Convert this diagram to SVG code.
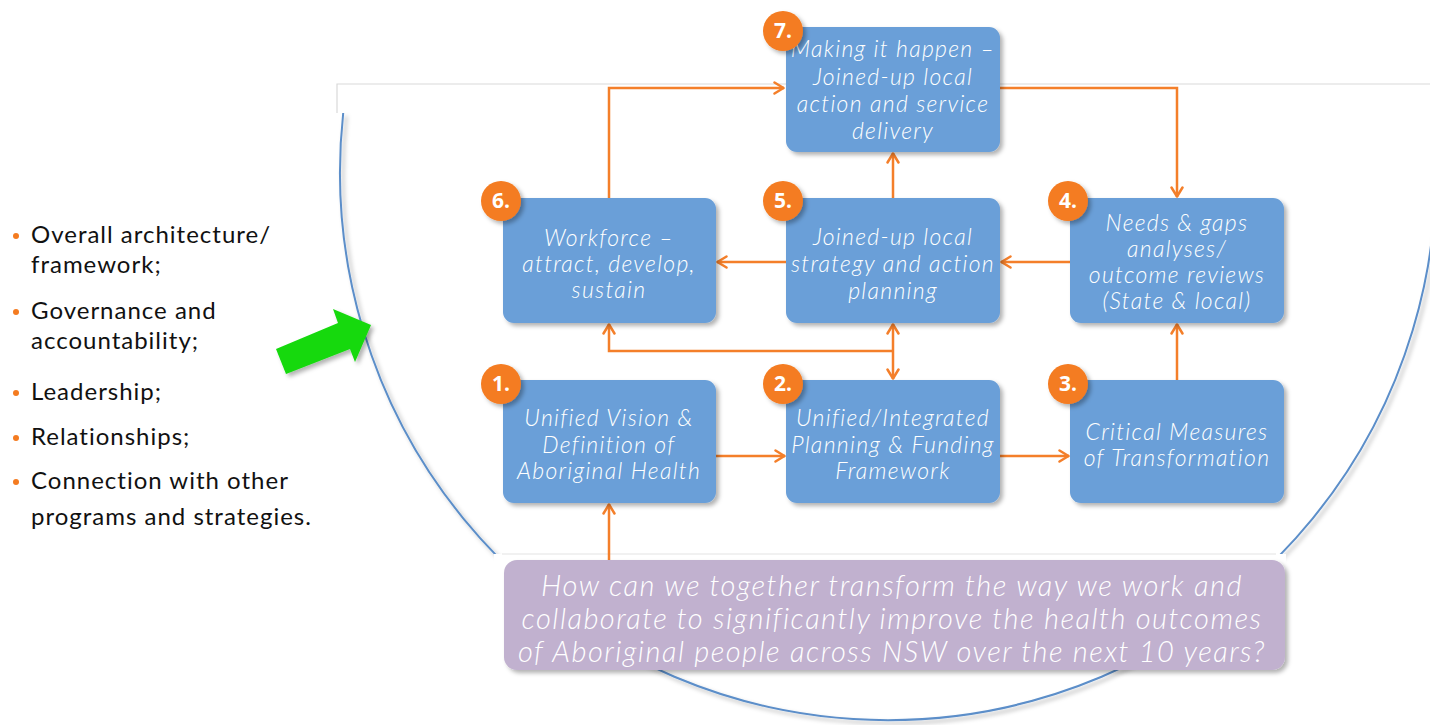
<svg xmlns="http://www.w3.org/2000/svg" width="1430" height="725" viewBox="0 0 1430 725">
  <style>
    .box { fill: #6a9fd8; }
    .ask { fill: #c1b1cf; }
    .hand { font-family: Lato, "Open Sans", "DejaVu Sans", sans-serif; font-style: italic; font-weight: 300; fill: #ffffff; text-anchor: middle; }
    .node-t { font-size: 23px; letter-spacing: 1.3px; }
    .ask-t { font-size: 29px; letter-spacing: 1.5px; }
    .badge { fill: #f47b20; }
    .badge-t { font-family: "Open Sans", "Liberation Sans", sans-serif; font-weight: 700; font-size: 21px; fill: #ffffff; text-anchor: middle; }
    .conn { fill: none; stroke: #f47f2a; stroke-width: 2.5; }
    .bullet-t { font-family: Lato, "Liberation Sans", sans-serif; font-size: 24px; letter-spacing: 1px; fill: #111111; }
    .dot { fill: #f47b20; }
  </style>
  <defs>
    <filter id="shadow" x="-10%" y="-10%" width="130%" height="130%">
      <feDropShadow dx="3" dy="3" stdDeviation="2" flood-color="#000000" flood-opacity="0.3"/>
    </filter>
    <marker id="arrow" viewBox="0 0 12 14" refX="11" refY="7" markerWidth="12" markerHeight="14" markerUnits="userSpaceOnUse" orient="auto-start-reverse">
      <path d="M1.5,1.5 L10.5,7 L1.5,12.5" fill="none" stroke="#f47f2a" stroke-width="2.5" stroke-linecap="round" stroke-linejoin="round"/>
    </marker>
  </defs>

  <rect x="0" y="0" width="1430" height="725" fill="#ffffff"/>

  <!-- framing: top band edge and the large enclosing arc -->
  <g id="frame">
    <path d="M337,113 V84 H1430" fill="none" stroke="#d9d9d9" stroke-width="1.2"/>
    <path d="M343.2,113 A548,548 0 1 0 1432.8,113" fill="none" stroke="#5b8ec9" stroke-width="2" filter="url(#shadow)"/>
    <rect x="494" y="554" width="792" height="110" fill="#ffffff"/>
    <line x1="502" y1="554" x2="1276" y2="554" stroke="#e3e3e3" stroke-width="1"/>
  </g>

  <!-- bullet list -->
  <g id="bullets">
    <circle class="dot" cx="16" cy="236" r="3"/>
    <text class="bullet-t" x="31" y="243">Overall architecture/</text>
    <text class="bullet-t" x="31" y="273">framework;</text>
    <circle class="dot" cx="16" cy="312" r="3"/>
    <text class="bullet-t" x="31" y="319">Governance and</text>
    <text class="bullet-t" x="31" y="349">accountability;</text>
    <circle class="dot" cx="16" cy="393" r="3"/>
    <text class="bullet-t" x="31" y="400">Leadership;</text>
    <circle class="dot" cx="16" cy="438" r="3"/>
    <text class="bullet-t" x="31" y="445">Relationships;</text>
    <circle class="dot" cx="16" cy="482" r="3"/>
    <text class="bullet-t" x="31" y="489">Connection with other</text>
    <text class="bullet-t" x="31" y="525">programs and strategies.</text>
  </g>

  <!-- green pointer -->
  <g id="pointer">
    <polygon points="276,349 338,323 333,309 371,325 355,362 350,349 286,374" fill="#13d90c" filter="url(#shadow)"/>
  </g>

  <!-- connectors -->
  <g id="connectors">
    <path class="conn" d="M609,198 V88 H784" marker-end="url(#arrow)"/>
    <path class="conn" d="M1000,88 H1177 V197" marker-end="url(#arrow)"/>
    <path class="conn" d="M893,198 V153" marker-end="url(#arrow)"/>
    <path class="conn" d="M786,262 H717" marker-end="url(#arrow)"/>
    <path class="conn" d="M1070,262 H1001" marker-end="url(#arrow)"/>
    <path class="conn" d="M1177,380 V324" marker-end="url(#arrow)"/>
    <path class="conn" d="M716,456 H785" marker-end="url(#arrow)"/>
    <path class="conn" d="M1000,456 H1069" marker-end="url(#arrow)"/>
    <path class="conn" d="M609,560 V504" marker-end="url(#arrow)"/>
    <path class="conn" d="M893,351 H609 V324" marker-end="url(#arrow)"/>
    <path class="conn" d="M893,324 V379" marker-start="url(#arrow)" marker-end="url(#arrow)"/>
  </g>

  <!-- 7 -->
  <g id="node7">
    <rect class="box" x="786" y="27" width="214" height="125" rx="11" filter="url(#shadow)"/>
    <text class="hand node-t"><tspan x="893" y="57">Making it happen –</tspan><tspan x="893" y="85">Joined-up local</tspan><tspan x="893" y="112">action and service</tspan><tspan x="893" y="139">delivery</tspan></text>
    <circle class="badge" cx="783" cy="31" r="20" filter="url(#shadow)"/>
    <text class="badge-t" x="783" y="38">7.</text>
  </g>

  <!-- 6 -->
  <g id="node6">
    <rect class="box" x="503" y="198" width="213" height="125" rx="11" filter="url(#shadow)"/>
    <text class="hand node-t"><tspan x="609" y="246">Workforce –</tspan><tspan x="609" y="272">attract, develop,</tspan><tspan x="609" y="298">sustain</tspan></text>
    <circle class="badge" cx="501" cy="201" r="20" filter="url(#shadow)"/>
    <text class="badge-t" x="501" y="208">6.</text>
  </g>

  <!-- 5 -->
  <g id="node5">
    <rect class="box" x="786" y="198" width="214" height="125" rx="11" filter="url(#shadow)"/>
    <text class="hand node-t"><tspan x="893" y="245">Joined-up local</tspan><tspan x="893" y="272">strategy and action</tspan><tspan x="893" y="299">planning</tspan></text>
    <circle class="badge" cx="783" cy="201" r="20" filter="url(#shadow)"/>
    <text class="badge-t" x="783" y="208">5.</text>
  </g>

  <!-- 4 -->
  <g id="node4">
    <rect class="box" x="1070" y="198" width="214" height="125" rx="11" filter="url(#shadow)"/>
    <text class="hand node-t"><tspan x="1177" y="231">Needs &amp; gaps</tspan><tspan x="1177" y="257">analyses/</tspan><tspan x="1177" y="283">outcome reviews</tspan><tspan x="1177" y="309">(State &amp; local)</tspan></text>
    <circle class="badge" cx="1068" cy="201" r="20" filter="url(#shadow)"/>
    <text class="badge-t" x="1068" y="208">4.</text>
  </g>

  <!-- 1 -->
  <g id="node1">
    <rect class="box" x="503" y="380" width="213" height="123" rx="11" filter="url(#shadow)"/>
    <text class="hand node-t"><tspan x="609" y="426">Unified Vision &amp;</tspan><tspan x="609" y="453">Definition of</tspan><tspan x="609" y="479">Aboriginal Health</tspan></text>
    <circle class="badge" cx="501" cy="384" r="20" filter="url(#shadow)"/>
    <text class="badge-t" x="501" y="391">1.</text>
  </g>

  <!-- 2 -->
  <g id="node2">
    <rect class="box" x="786" y="380" width="214" height="123" rx="11" filter="url(#shadow)"/>
    <text class="hand node-t"><tspan x="893" y="426">Unified/Integrated</tspan><tspan x="893" y="453">Planning &amp; Funding</tspan><tspan x="893" y="479">Framework</tspan></text>
    <circle class="badge" cx="783" cy="384" r="20" filter="url(#shadow)"/>
    <text class="badge-t" x="783" y="391">2.</text>
  </g>

  <!-- 3 -->
  <g id="node3">
    <rect class="box" x="1070" y="380" width="214" height="123" rx="11" filter="url(#shadow)"/>
    <text class="hand node-t"><tspan x="1177" y="440">Critical Measures</tspan><tspan x="1177" y="466">of Transformation</tspan></text>
    <circle class="badge" cx="1068" cy="384" r="20" filter="url(#shadow)"/>
    <text class="badge-t" x="1068" y="391">3.</text>
  </g>

  <!-- guiding question -->
  <g id="question">
    <rect class="ask" x="504" y="560" width="781" height="110" rx="13" filter="url(#shadow)"/>
    <text class="hand ask-t"><tspan x="892" y="596">How can we together transform the way we work and</tspan><tspan x="892" y="629">collaborate to significantly improve the health outcomes</tspan><tspan x="892" y="662">of Aboriginal people across NSW over the next 10 years?</tspan></text>
  </g>
</svg>
